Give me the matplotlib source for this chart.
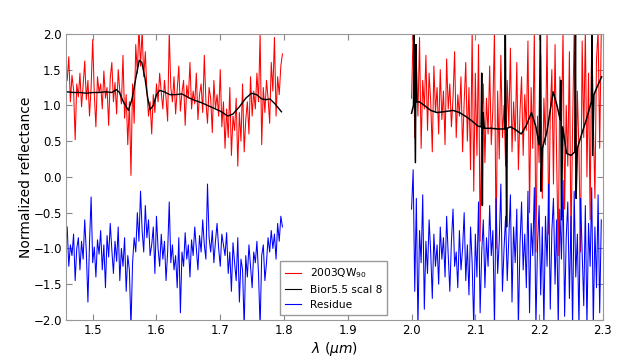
import numpy as np
import matplotlib
matplotlib.use("Agg")
import matplotlib.pyplot as plt

# ---- data ----
red1 = [
    1.35, 1.68, 1.05, 1.42, 1.22, 0.52, 1.30, 1.12, 1.45, 0.98,
    1.28, 1.62, 1.08, 1.35, 0.85, 1.25, 1.92, 1.15, 0.70, 1.40,
    1.18, 1.30, 0.95, 1.48, 1.10, 1.25, 0.72, 1.38, 1.60, 1.05,
    1.32, 0.88, 1.50, 1.20, 1.02, 1.70, 0.82, 1.15, 0.45, 1.05,
    0.02, 1.30, 0.75, 1.85, 1.45, 2.10, 1.55, 2.05, 1.40, 1.75,
    1.20, 0.85, 1.05, 0.60, 1.15, 0.90, 1.30, 1.05, 1.45, 1.18,
    0.95, 1.35, 1.10, 0.78, 2.02, 1.25, 1.05, 1.40, 0.88, 1.22,
    1.55, 0.92, 1.18, 1.35, 0.72, 1.28, 1.10, 1.60, 0.95, 1.20,
    1.02, 1.45, 0.80, 1.15, 1.30, 0.90, 1.70, 1.05, 0.75, 1.25,
    1.10, 0.62, 1.35, 0.95, 1.15, 0.85, 1.50, 0.70, 1.05, 0.40,
    0.95, 0.55, 1.25, 0.30, 0.85, 0.65, 1.10, 0.15, 0.90, 0.50,
    1.30, 0.35, 0.80, 1.05, 0.60, 1.40, 0.85, 1.20, 0.95, 1.45,
    1.05, 2.00, 0.45, 1.25, 0.90, 1.35, 1.10, 0.75, 1.60, 1.20,
    1.95, 0.85, 1.40, 1.15, 1.55, 1.72,
]
blue1 = [
    -0.70, -1.25, -0.95, -1.10, -0.80, -1.45, -1.00, -0.85, -1.30, -0.90,
    -1.15, -0.60, -1.05, -1.75, -0.92, -0.28, -1.20, -0.98, -1.40, -0.88,
    -1.08, -0.75, -1.30, -0.95, -1.55, -0.82, -1.12, -0.65, -1.02, -1.35,
    -0.90, -1.18, -0.70, -1.45, -1.00, -1.25, -0.85, -1.60, -1.10, -1.30,
    -2.10, -1.20, -0.85, -1.05, -0.50, -0.90, -0.20, -0.75, -1.05, -0.40,
    -0.85, -0.60, -1.10, -0.95, -0.70, -1.35, -0.55, -1.00, -1.25, -0.80,
    -1.15, -0.90, -1.45, -1.05, -0.35, -1.20, -0.95, -1.30, -1.10, -1.55,
    -0.85, -1.90, -1.05, -1.25, -0.78, -1.15, -0.95, -1.40, -0.88, -1.10,
    -0.70, -1.00, -1.30, -0.82, -1.05, -0.60, -0.95, -1.15, -0.10, -0.85,
    -1.05, -0.75, -1.20, -0.90, -0.65, -1.00, -1.25, -0.80, -0.95, -1.10,
    -0.78, -1.35, -1.05, -1.60, -0.92, -1.20, -1.45, -0.85, -1.75, -1.15,
    -1.30, -2.10, -1.10, -1.40, -0.95, -1.25, -1.55, -1.05, -1.20, -0.90,
    -1.35, -2.10, -1.10, -0.95, -1.45, -1.20, -0.85, -1.05, -0.75, -1.00,
    -0.80, -1.15, -0.65, -0.90, -0.55, -0.70,
]
red2 = [
    1.10, 2.05, 0.55, 1.60, 0.85, 1.95, 0.40, 1.35, 0.95, 1.70,
    0.65, 1.45, 1.05, 0.35, 1.55, 0.90, 1.25, 0.60, 1.50, 0.80,
    1.20, 0.45, 1.65, 0.95, 1.30, 0.70, 1.10, 1.75, 0.55, 1.15,
    0.85, 1.40, 0.35, 1.05, 1.60, 0.50, 1.25, 0.10, 2.05, -0.20,
    1.45, 0.30, 1.85, -0.90, 0.75, 1.30, 0.20, 1.10, 0.60, 1.55,
    0.45, 0.95, 2.05, -1.00, 1.20, 0.25, 1.70, 0.55, 1.00, 0.15,
    1.35, 0.70, 1.80, 0.35, 1.05, 0.50, 1.60, 0.10, 0.90, 1.40,
    0.30, 1.15, 0.65, 1.90, -0.50, 1.25, 0.40, 2.05, -1.05, 0.85,
    0.20, 1.70, -0.30, 1.10, 0.45, 2.05, -0.80, 0.90, 1.50, -0.10,
    1.85, 0.25, -1.10, 1.40, 0.60, 2.05, -0.45, 1.00, 0.15, 1.75,
    -0.95, 0.70, 2.05, -0.20, 1.20, 0.35, -1.05, 1.90, 0.55, 2.05,
    0.00, 1.45, -0.60, 2.05, 0.80, -0.30, 1.65, 2.05, 0.40, 2.05,
]
blue2 = [
    -0.45, 0.10, -1.60, -0.30, -2.10, -0.75, -1.20, -0.25, -1.85, -0.90,
    -1.35, -0.60, -1.05, -1.70, -0.80, -1.25, -0.95, -1.50, -0.70, -1.15,
    -0.85, -1.40, -0.55, -1.10, -1.60, -0.90, -0.45, -1.25, -1.05, -1.55,
    -0.75, -1.30, -1.00, -0.50, -1.45, -0.95, -1.65, -0.70, -1.20, -2.10,
    -0.80, -1.40, -0.35, -1.90, -1.05, -0.60, -1.55, -0.85, -1.25, -0.40,
    -1.10, -0.75, -2.10, -0.30, -1.35, -0.90, -0.10, -1.60, -1.00, -0.55,
    -1.45, -0.85, -0.25, -1.75, -0.70, -1.20, -0.45, -2.10, -0.95, -0.35,
    -1.30, -0.80, -1.55, -0.20, -1.90, -0.65, -1.10, -0.15, -2.10, -0.95,
    -0.40, -1.65, -0.70, -2.10, -0.55, -1.25, -0.10, -1.85, -0.75, -0.30,
    -1.50, -0.60, -2.10, -0.45, -1.15, -0.05, -1.95, -0.85, -0.35, -1.70,
    -0.55, -2.10, -0.20, -1.40, -0.80, -2.10, -0.30, -1.05, -1.80, -0.40,
    -2.10, -0.65, -1.25, -0.15, -2.10, -0.70, -1.55, -0.25, -1.90, -0.60,
]
wl1 = np.linspace(1.460, 1.7975, len(red1))
wl2 = np.linspace(2.000, 2.2975, len(red2))

model_wl1 = [1.459, 1.47, 1.48, 1.49, 1.50, 1.51, 1.52, 1.53, 1.537, 1.542,
             1.548, 1.556, 1.562, 1.568, 1.573, 1.577, 1.582, 1.586, 1.590, 1.595,
             1.600, 1.605, 1.612, 1.621, 1.630, 1.640, 1.650, 1.660, 1.670, 1.680,
             1.690, 1.700, 1.712, 1.720, 1.730, 1.740, 1.749, 1.757, 1.765, 1.772,
             1.778, 1.786, 1.796]
model1 = [1.19, 1.18, 1.18, 1.17, 1.18, 1.18, 1.19, 1.18, 1.22, 1.18,
          1.05, 0.93, 1.10, 1.40, 1.63, 1.60, 1.38, 1.12, 0.94, 1.00,
          1.15, 1.21, 1.19, 1.15, 1.15, 1.16, 1.11, 1.07, 1.04, 1.00,
          0.96, 0.92, 0.85, 0.88, 0.98, 1.10, 1.17, 1.15, 1.09, 1.08,
          1.09, 1.02, 0.91]
model_wl2 = [2.000, 2.003, 2.004, 2.006, 2.007, 2.008, 2.012, 2.020, 2.030, 2.040,
             2.050, 2.065, 2.075, 2.086, 2.095, 2.104, 2.109, 2.110, 2.111, 2.112,
             2.114, 2.125, 2.135, 2.142, 2.146, 2.147, 2.149, 2.150, 2.155, 2.163,
             2.172, 2.180, 2.188, 2.195, 2.200, 2.202, 2.203, 2.205, 2.212, 2.222,
             2.228, 2.233, 2.234, 2.235, 2.237, 2.243, 2.250, 2.256, 2.257, 2.258,
             2.260, 2.264, 2.274, 2.282, 2.283, 2.284, 2.286, 2.292, 2.298]
model2 = [0.89, 1.00, 2.05, 0.20, 1.85, 1.05, 1.05, 1.00, 0.93, 0.90,
          0.91, 0.93, 0.90, 0.84, 0.78, 0.71, 0.70, 1.45, -0.40, 0.90,
          0.68, 0.68, 0.67, 0.67, 0.67, 2.05, -0.70, 0.68, 0.70, 0.66,
          0.60, 0.72, 0.90, 0.70, 0.45, 2.05, -0.20, 0.40, 0.62, 1.19,
          1.00, 0.80, 1.35, -0.60, 0.70, 0.33, 0.30, 0.35, 2.05, -0.30,
          0.40, 0.52, 0.80, 1.05, 2.05, 0.30, 1.15, 1.28, 1.40]

xticks = [1.5, 1.6, 1.7, 1.8, 1.9, 2.0, 2.1, 2.2, 2.3]
yticks = [-2.0, -1.5, -1.0, -0.5, 0.0, 0.5, 1.0, 1.5, 2.0]

fig = plt.figure(figsize=(6.4, 3.64), dpi=100)
ax = fig.add_axes([0.103, 0.121, 0.839, 0.786])

lr, = ax.plot(wl1, red1, color='red', lw=0.75, label='2003QW$_{90}$')
ax.plot(wl2, red2, color='red', lw=0.75)
lk, = ax.plot(model_wl1, model1, color='black', lw=1.0, label='Bior5.5 scal 8')
ax.plot(model_wl2, model2, color='black', lw=1.1)
lb, = ax.plot(wl1, blue1, color='blue', lw=0.75, label='Residue')
ax.plot(wl2, blue2, color='blue', lw=0.75)

ax.set_xlim(1.458, 2.3)
ax.set_ylim(-2.0, 2.0)
ax.set_xticks(xticks)
ax.set_yticks(yticks)
ax.tick_params(direction='in', top=True, right=True, labelsize=8.5, color='#888888',
               length=4, pad=3)
for s in ax.spines.values():
    s.set_color('#999999')
ax.set_xlabel(r'$\lambda$ $(\mu m)$', fontsize=10, labelpad=2)
ax.set_ylabel('Normalized reflectance', fontsize=10, labelpad=0.5)

leg = ax.legend(handles=[lr, lk, lb], loc='lower left', bbox_to_anchor=(0.398, 0.017),
                fancybox=False, fontsize=7.7, framealpha=1, edgecolor='#999999',
                handlelength=1.5, borderpad=0.5, labelspacing=0.45, borderaxespad=0)
for line in leg.get_lines():
    line.set_linewidth(0.8)

fig.savefig('out.png', dpi=100)
